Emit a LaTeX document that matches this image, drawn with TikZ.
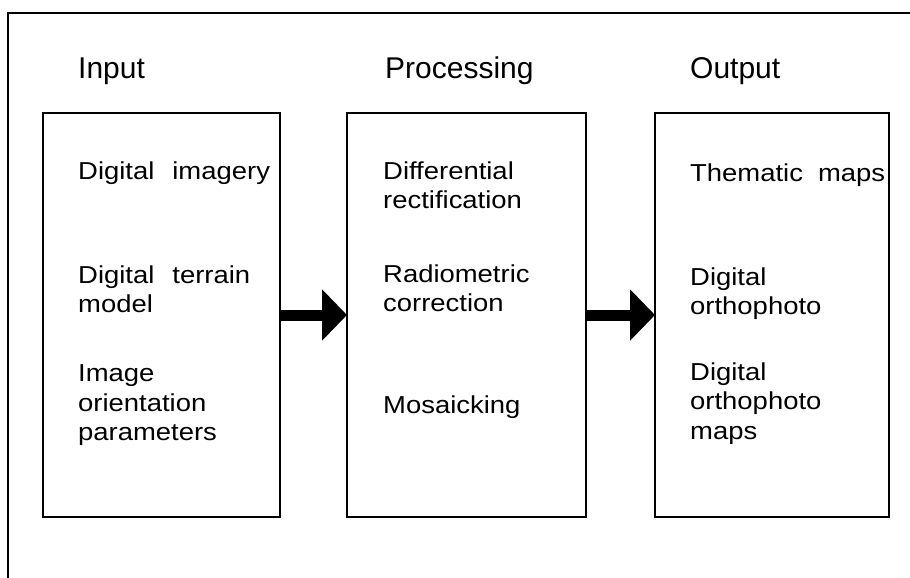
\documentclass[tikz,border=0pt]{standalone}
\usepackage{fontspec}
\setmainfont{Liberation Sans}[FakeStretch=1.12]
\newfontfamily\titlefont{Liberation Sans}
\usetikzlibrary{arrows.meta}
\begin{document}
\begin{tikzpicture}[x=1pt,y=-1pt,
  panel/.style={draw,line width=1.5pt,inner sep=0pt,outer sep=0pt,anchor=north west,minimum height=404pt},
  title/.style={anchor=base west,inner sep=0pt,font=\titlefont\fontsize{30}{36}\selectfont},
  body/.style={anchor=north west,inner sep=0pt,align=left,font=\fontsize{24.5}{29.5}\selectfont},
  flow/.style={line width=11pt,-{Triangle[length=25pt,width=50pt]}}]
\useasboundingbox (0,0) rectangle (910,578);
% outer frame
\draw[line width=2pt] (910,13) -- (8,13) -- (8,578);
% panels
\node[panel,minimum width=237pt] (inbox) at (43,113) {};
\node[panel,minimum width=239pt] (procbox) at (347,113) {};
\node[panel,minimum width=234pt] (outbox) at (655,113) {};
% titles
\node[title] (tin) at (78,78) {Input};
\node[title] (tproc) at (385,78) {Processing};
\node[title] (tout) at (690,78) {Output};
% input texts
\node[body] (i1) at (78,161.5) {Digital\hspace{18pt}imagery};
\node[body] (i2) at (78,265.5) {Digital\hspace{18pt}terrain\\model};
\node[body] (i3) at (78,364.5) {Image\\orientation\\parameters};
% processing texts
\node[body] (p1) at (383,161.5) {Differential\\rectification};
\node[body] (p2) at (383,264.5) {Radiometric\\correction};
\node[body] (p3) at (383,395.5) {Mosaicking};
% output texts
\node[body] (o1) at (690,163.5) {Thematic\hspace{15pt}maps};
\node[body] (o2) at (690,267.5) {Digital\\orthophoto};
\node[body] (o3) at (690,362.5) {Digital\\orthophoto\\maps};
% arrows
\draw[flow] (inbox.east) -- (procbox.west);
\draw[flow] (procbox.east) -- (outbox.west);
\end{tikzpicture}
\end{document}
